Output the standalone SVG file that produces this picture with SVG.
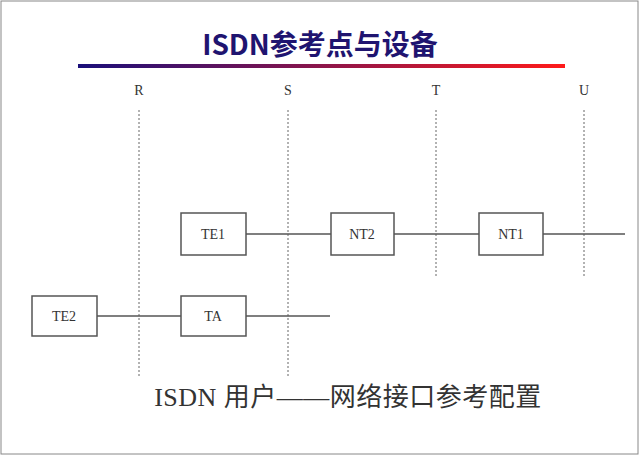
<svg xmlns="http://www.w3.org/2000/svg" width="640" height="456" viewBox="0 0 640 456">
<style>
.box{fill:#fff;stroke:#555;stroke-width:1.5}
.lbl{font-family:"Liberation Serif","Noto Sans CJK SC",serif;font-size:14px;fill:#333;text-anchor:middle}
.dash{stroke:#666;stroke-width:1;stroke-dasharray:2,2}
.wire{stroke:#555;stroke-width:1.3}
</style>
<defs><linearGradient id="g" x1="0" x2="1"><stop offset="0" stop-color="#1a0f7a"/><stop offset="1" stop-color="#ff1a1a"/></linearGradient></defs>
<rect x="1" y="1" width="637" height="453" fill="#fff" stroke="#888"/>
<text x="320" y="55" text-anchor="middle" font-family="Liberation Sans Narrow,Noto Sans CJK SC,sans-serif" font-weight="bold" font-size="28" fill="#1f1470">ISDN参考点与设备</text>
<rect x="78" y="64" width="487" height="4" fill="url(#g)"/>
<g id="refs">
<text class="lbl" x="139" y="95">R</text><text class="lbl" x="288" y="95">S</text><text class="lbl" x="436" y="95">T</text><text class="lbl" x="584" y="95">U</text>
</g>
<g id="connectors">
<line class="dash" x1="139" y1="110" x2="139" y2="376"/>
<line class="dash" x1="288" y1="110" x2="288" y2="376"/>
<line class="dash" x1="436" y1="110" x2="436" y2="276"/>
<line class="dash" x1="584" y1="110" x2="584" y2="276"/>
<line class="wire" x1="246" y1="234" x2="331" y2="234"/>
<line class="wire" x1="394" y1="234" x2="479" y2="234"/>
<line class="wire" x1="543" y1="234" x2="625" y2="234"/>
<line class="wire" x1="97" y1="316" x2="181" y2="316"/>
<line class="wire" x1="246" y1="316" x2="330" y2="316"/>
</g>
<g id="TE1"><rect class="box" x="181" y="213" width="65" height="42"/><text class="lbl" x="213" y="239">TE1</text></g>
<g id="NT2"><rect class="box" x="331" y="213" width="63" height="42"/><text class="lbl" x="362" y="239">NT2</text></g>
<g id="NT1"><rect class="box" x="479" y="213" width="64" height="42"/><text class="lbl" x="511" y="239">NT1</text></g>
<g id="TE2"><rect class="box" x="32" y="296" width="65" height="40"/><text class="lbl" x="64" y="321">TE2</text></g>
<g id="TA"><rect class="box" x="181" y="296" width="65" height="40"/><text class="lbl" x="213" y="321">TA</text></g>
<text x="348" y="406" text-anchor="middle" font-family="Liberation Serif,Noto Sans CJK SC,serif" font-size="26" fill="#333" letter-spacing="0.5">ISDN 用户——网络接口参考配置</text>
</svg>
